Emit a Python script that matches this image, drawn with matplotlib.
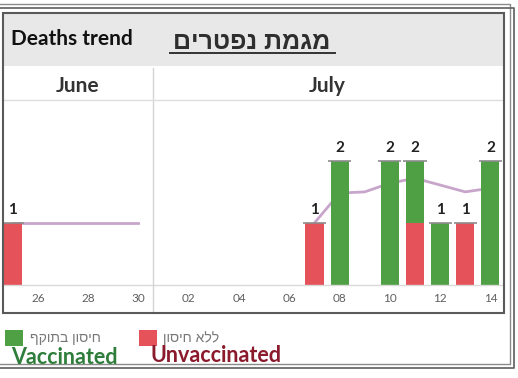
import matplotlib
matplotlib.use("Agg")
import matplotlib.pyplot as plt
import numpy as np
from matplotlib.patches import Rectangle
from matplotlib.lines import Line2D

# ---- data ----
day_labels = ["25", "26", "27", "28", "29", "30",
              "01", "02", "03", "04", "05", "06", "07", "08", "09", "10", "11", "12", "13", "14"]
vaccinated = [0, 0, 0, 0, 0, 0, 0, 0, 0, 0, 0, 0, 0, 2, 0, 2, 1, 1, 0, 2]
unvaccinated = [1, 0, 0, 0, 0, 0, 0, 0, 0, 0, 0, 0, 1, 0, 0, 0, 1, 0, 1, 0]
trend_june = [1, 1, 1, 1, 1, 1]
trend_july = [1.0, 1.48, 1.5, 1.64, 1.72, 1.61, 1.5, 1.56]
months = ["June", "July"]
title_en = "Deaths trend"
title_he = "מגמת נפטרים"
legend_he = ["חיסון בתוקף", "ללא חיסון"]
legend_en = ["Vaccinated", "Unvaccinated"]

W, H = 518, 378
fig = plt.figure(figsize=(W / 100, H / 100), dpi=100)
fig.patch.set_facecolor("white")

def fx(x):
    return x / W

def fy(y):
    return 1 - y / H

HEB = ["Liberation Sans", "DejaVu Sans"]
LAT = ["Lato", "DejaVu Sans"]

GREEN = "#4f9f45"
RED = "#e5525a"
LINE = "#c8a6cc"

# title band
fig.patches.append(Rectangle((fx(3), fy(66)), fx(500), 53 / H, transform=fig.transFigure,
                             facecolor="#e8e8e8", edgecolor="none", zorder=0))

# plot axes
ax = fig.add_axes([fx(2), fy(285), fx(501), 185 / H])
x = np.arange(len(day_labels))
bw = 0.72
v = np.array(vaccinated)
u = np.array(unvaccinated)
ax.bar(x, u, width=bw, color=RED, zorder=2)
ax.bar(x, v, width=bw, bottom=u, color=GREEN, zorder=2)
tot = v + u
for xi, t in zip(x, tot):
    if t > 0:
        ax.hlines(t, xi - 0.46, xi + 0.46, color="#8c8c8c", lw=1.2, zorder=3)
        ax.annotate(str(t), (xi, t), xytext=(0, 4), textcoords="offset points",
                    ha="center", va="bottom", fontsize=11, fontweight="bold",
                    family=LAT, color="#222222")
ax.plot(x[0:6], trend_june, color=LINE, lw=2, zorder=1.5)
ax.plot(x[12:20], trend_july, color=LINE, lw=2, zorder=1.5)
ax.set_xlim(-0.43, 19.5)
ax.set_ylim(0, 2.98)
ticks = [i for i in range(len(day_labels)) if i % 2 == 1]
ax.set_xticks(ticks)
ax.set_xticklabels([day_labels[i] for i in ticks], fontsize=8.5, color="#5f5f5f", family=LAT)
ax.tick_params(axis="x", length=0, pad=6)
ax.set_yticks([])
for s in ["top", "right", "left"]:
    ax.spines[s].set_visible(False)
ax.spines["bottom"].set_color("#d9d9d9")
ax.spines["bottom"].set_linewidth(1)
ax.set_facecolor("none")

# divider between months and header line
fig.lines.append(Line2D([fx(153), fx(153)], [fy(68), fy(313)], transform=fig.transFigure,
                        color="#d4d4d4", lw=1))
fig.lines.append(Line2D([fx(3), fx(503)], [fy(100), fy(100)], transform=fig.transFigure,
                        color="#dedede", lw=1))

# inner frame
fig.patches.append(Rectangle((fx(2.5), fy(313)), fx(501), 300 / H, transform=fig.transFigure,
                             facecolor="none", edgecolor="#5a5a5a", lw=1.5, zorder=5))
# outer double frame
fig.lines.append(Line2D([fx(-5), fx(510), fx(510), fx(-5)], [fy(4), fy(4), fy(364), fy(364)],
                        transform=fig.transFigure, color="#8a8a8a", lw=1))
fig.lines.append(Line2D([fx(-5), fx(514), fx(514), fx(-5)], [fy(7.5), fy(7.5), fy(368), fy(368)],
                        transform=fig.transFigure, color="#6a6a6a", lw=1.3))

# titles
fig.text(fx(11), fy(39), title_en, fontsize=15, fontweight="bold", family=LAT,
         color="#111111", va="center", ha="left")
fig.text(fx(252), fy(42), title_he[::-1], fontsize=18, fontweight="bold", family=HEB,
         color="#2e2e2e", va="center", ha="center")
fig.lines.append(Line2D([fx(170), fx(335)], [fy(53), fy(53)], transform=fig.transFigure,
                        color="#333333", lw=1.4))
fig.text(fx(78), fy(86), months[0], fontsize=15, fontweight="bold", family=LAT,
         color="#333333", ha="center", va="center")
fig.text(fx(327), fy(86), months[1], fontsize=15, fontweight="bold", family=LAT,
         color="#333333", ha="center", va="center")

# legend
fig.patches.append(Rectangle((fx(5), fy(346)), fx(18), 16 / H, transform=fig.transFigure,
                             facecolor=GREEN, edgecolor="none"))
fig.patches.append(Rectangle((fx(139), fy(346)), fx(18), 16 / H, transform=fig.transFigure,
                             facecolor=RED, edgecolor="none"))
fig.text(fx(30), fy(338), legend_he[0][::-1], fontsize=10, family=HEB, color="#777777",
         ha="left", va="center")
fig.text(fx(163), fy(338), legend_he[1][::-1], fontsize=10, family=HEB, color="#777777",
         ha="left", va="center")
fig.text(fx(11), fy(358), legend_en[0], fontsize=15.5, fontweight="bold", family=LAT,
         color="#2e7d3a", ha="left", va="center")
fig.text(fx(151), fy(356), legend_en[1], fontsize=15.5, fontweight="bold", family=LAT,
         color="#8a1a2c", ha="left", va="center")

fig.savefig("out.png", dpi=100)
